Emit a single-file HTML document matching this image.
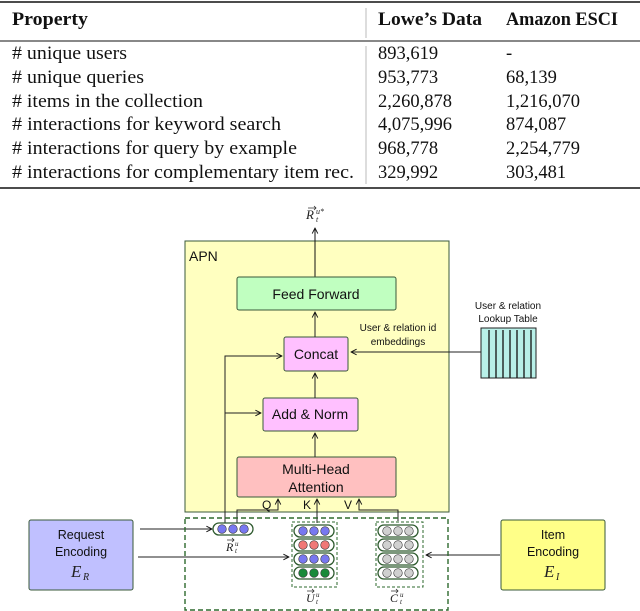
<!DOCTYPE html>
<html><head><meta charset="utf-8"><style>
html,body{margin:0;padding:0;background:#fff;width:640px;height:611px;overflow:hidden}
svg{display:block}
.t{font-family:"Liberation Serif",serif;font-size:18.5px;fill:#111}
.b{font-weight:bold}
.s{font-family:"Liberation Sans",sans-serif;fill:#111}
.m{font-family:"Liberation Serif",serif;font-style:italic;fill:#222}
</style></head><body>
<svg width="640" height="611" viewBox="0 0 640 611" xmlns="http://www.w3.org/2000/svg">
<defs>
<marker id="a" viewBox="0 0 10 10" refX="9" refY="5" markerWidth="7" markerHeight="7" orient="auto-start-reverse">
<path d="M1,1 L9,5 L1,9" fill="none" stroke="#111" stroke-width="1.3"/></marker>
</defs>
<!-- table -->
<line x1="0" y1="2" x2="640" y2="2" stroke="#111" stroke-width="1.6"/>
<line x1="0" y1="41" x2="640" y2="41" stroke="#111" stroke-width="1"/>
<line x1="0" y1="188" x2="640" y2="188" stroke="#111" stroke-width="1.6"/>
<line x1="366" y1="8" x2="366" y2="38" stroke="#bbb" stroke-width="1"/>
<line x1="366" y1="46" x2="366" y2="184" stroke="#bbb" stroke-width="1"/>
<text class="t b" x="12" y="25" textLength="76" lengthAdjust="spacingAndGlyphs">Property</text>
<text class="t b" x="378" y="25" textLength="104" lengthAdjust="spacingAndGlyphs">Lowe’s Data</text>
<text class="t b" x="506" y="25" textLength="112" lengthAdjust="spacingAndGlyphs">Amazon ESCI</text>
<g class="t">
<text x="12" y="59" textLength="115" lengthAdjust="spacingAndGlyphs"># unique users</text><text x="378" y="59">893,619</text><text x="506" y="59">-</text>
<text x="12" y="83" textLength="132" lengthAdjust="spacingAndGlyphs"># unique queries</text><text x="378" y="83">953,773</text><text x="506" y="83">68,139</text>
<text x="12" y="107" textLength="191" lengthAdjust="spacingAndGlyphs"># items in the collection</text><text x="378" y="107">2,260,878</text><text x="506" y="107">1,216,070</text>
<text x="12" y="130" textLength="269" lengthAdjust="spacingAndGlyphs"># interactions for keyword search</text><text x="378" y="130">4,075,996</text><text x="506" y="130">874,087</text>
<text x="12" y="154" textLength="285" lengthAdjust="spacingAndGlyphs"># interactions for query by example</text><text x="378" y="154">968,778</text><text x="506" y="154">2,254,779</text>
<text x="12" y="178" textLength="342" lengthAdjust="spacingAndGlyphs"># interactions for complementary item rec.</text><text x="378" y="178">329,992</text><text x="506" y="178">303,481</text>
</g>
<!-- APN -->
<rect x="185" y="241" width="264" height="271" fill="#ffffc0" stroke="#3a5a3a" stroke-width="1"/>
<text class="s" x="189" y="261" font-size="14">APN</text>
<line x1="315" y1="277" x2="315" y2="228" stroke="#111" marker-end="url(#a)"/>
<text class="m" x="306" y="219" font-size="13">R</text><path d="M308,208 h8 M314,206 l2,2 l-2,2" stroke="#333" fill="none" stroke-width="0.8"/><text class="m" x="316" y="214" font-size="8">u*</text><text class="m" x="316" y="222" font-size="8">t</text>
<rect x="237" y="277" width="159" height="33" rx="2" fill="#c0ffc0" stroke="#3a5a3a"/>
<text class="s" x="316" y="299" font-size="14" text-anchor="middle">Feed Forward</text>
<rect x="284" y="337" width="64" height="34" rx="2" fill="#ffc0ff" stroke="#3a5a3a"/>
<text class="s" x="316" y="359" font-size="14" text-anchor="middle">Concat</text>
<rect x="263" y="398" width="95" height="33" rx="2" fill="#ffc0ff" stroke="#3a5a3a"/>
<text class="s" x="310" y="419" font-size="14" text-anchor="middle">Add &amp; Norm</text>
<rect x="237" y="457" width="159" height="40" rx="2" fill="#ffc0c0" stroke="#3a5a3a"/>
<text class="s" x="316" y="474" font-size="14" text-anchor="middle">Multi-Head</text>
<text class="s" x="316" y="492" font-size="14" text-anchor="middle">Attention</text>
<g stroke="#222" fill="none" stroke-width="1">
<line x1="315" y1="337" x2="315" y2="312" marker-end="url(#a)"/>
<line x1="315" y1="398" x2="315" y2="373" marker-end="url(#a)"/>
<line x1="315" y1="457" x2="315" y2="433" marker-end="url(#a)"/>
<polyline points="225,524 225,356 282,356" marker-end="url(#a)"/>
<line x1="225" y1="413" x2="261" y2="413" marker-end="url(#a)"/>
<polyline points="237,524 237,510 278,510 278,499" marker-end="url(#a)"/>
<line x1="317" y1="523" x2="317" y2="499" marker-end="url(#a)"/>
<polyline points="398,521 398,510 359,510 359,499" marker-end="url(#a)"/>
<line x1="481" y1="352" x2="351" y2="352" marker-end="url(#a)"/>
<line x1="140" y1="529" x2="212" y2="529" marker-end="url(#a)"/>
<line x1="138" y1="557" x2="289" y2="557" marker-end="url(#a)"/>
<line x1="500" y1="555" x2="426" y2="555" marker-end="url(#a)"/>
</g>
<text class="s" x="262" y="509" font-size="12">Q</text>
<text class="s" x="303" y="509" font-size="12">K</text>
<text class="s" x="344" y="509" font-size="12">V</text>
<text class="s" x="398" y="331" font-size="10" text-anchor="middle">User &amp; relation id</text>
<text class="s" x="398" y="345" font-size="10" text-anchor="middle">embeddings</text>
<text class="s" x="508" y="309" font-size="10" text-anchor="middle">User &amp; relation</text>
<text class="s" x="508" y="322" font-size="10" text-anchor="middle">Lookup Table</text>
<rect x="481" y="328" width="55" height="50" fill="#b8f0e8" stroke="#222"/>
<g stroke="#111" stroke-width="1.3">
<line x1="489" y1="330" x2="489" y2="378"/><line x1="496" y1="330" x2="496" y2="378"/><line x1="503" y1="330" x2="503" y2="378"/><line x1="510" y1="330" x2="510" y2="378"/><line x1="517" y1="330" x2="517" y2="378"/><line x1="524" y1="330" x2="524" y2="378"/><line x1="531" y1="330" x2="531" y2="378"/>
</g>
<!-- bottom -->
<rect x="185" y="518" width="263" height="92" fill="none" stroke="#2e6a2e" stroke-width="1.4" stroke-dasharray="5,3"/>
<rect x="29" y="520" width="104" height="70" rx="2" fill="#c0c0ff" stroke="#3a5a3a"/>
<text class="s" x="81" y="539" font-size="12.5" text-anchor="middle">Request</text>
<text class="s" x="81" y="556" font-size="12.5" text-anchor="middle">Encoding</text>
<text class="m" x="71" y="577" font-size="17">E</text><text class="m" x="83" y="580" font-size="10">R</text>
<rect x="501" y="520" width="104" height="70" rx="2" fill="#ffff88" stroke="#3a5a3a"/>
<text class="s" x="553" y="539" font-size="12.5" text-anchor="middle">Item</text>
<text class="s" x="553" y="556" font-size="12.5" text-anchor="middle">Encoding</text>
<text class="m" x="544" y="577" font-size="17">E</text><text class="m" x="556" y="580" font-size="10">I</text>
<!-- R pill -->
<rect x="213" y="523" width="40" height="12" rx="6" fill="#fff" stroke="#2e5a2e" stroke-width="1.3"/>
<g fill="#7878f0" stroke="#333" stroke-width="0.6"><circle cx="222" cy="529" r="4.3"/><circle cx="233" cy="529" r="4.3"/><circle cx="244" cy="529" r="4.3"/></g>
<text class="m" x="226" y="551" font-size="12">R</text><path d="M227,540 h7 M232,538 l2,2 l-2,2" stroke="#333" fill="none" stroke-width="0.8"/><text class="m" x="235" y="546" font-size="7">u</text><text class="m" x="235" y="553" font-size="7">t</text>
<!-- columns -->
<rect x="292" y="522" width="45" height="65" fill="none" stroke="#2e6a2e" stroke-dasharray="3,2"/>
<g stroke="#2e5a2e" stroke-width="1.3" fill="#fff">
<rect x="294" y="525" width="40" height="12" rx="6"/><rect x="294" y="539" width="40" height="12" rx="6"/><rect x="294" y="553" width="40" height="12" rx="6"/><rect x="294" y="567" width="40" height="12" rx="6"/>
<rect x="378" y="525" width="40" height="12" rx="6"/><rect x="378" y="539" width="40" height="12" rx="6"/><rect x="378" y="553" width="40" height="12" rx="6"/><rect x="378" y="567" width="40" height="12" rx="6"/>
</g>
<g stroke="#333" stroke-width="0.6">
<g fill="#7878f0"><circle cx="303" cy="531" r="4.3"/><circle cx="314" cy="531" r="4.3"/><circle cx="325" cy="531" r="4.3"/><circle cx="303" cy="559" r="4.3"/><circle cx="314" cy="559" r="4.3"/><circle cx="325" cy="559" r="4.3"/></g>
<g fill="#f07878"><circle cx="303" cy="545" r="4.3"/><circle cx="314" cy="545" r="4.3"/><circle cx="325" cy="545" r="4.3"/></g>
<g fill="#1a8a3a"><circle cx="303" cy="573" r="4.3"/><circle cx="314" cy="573" r="4.3"/><circle cx="325" cy="573" r="4.3"/></g>
<g fill="#d0d0d0"><circle cx="387" cy="531" r="4.3"/><circle cx="398" cy="531" r="4.3"/><circle cx="409" cy="531" r="4.3"/><circle cx="387" cy="545" r="4.3"/><circle cx="398" cy="545" r="4.3"/><circle cx="409" cy="545" r="4.3"/><circle cx="387" cy="559" r="4.3"/><circle cx="398" cy="559" r="4.3"/><circle cx="409" cy="559" r="4.3"/><circle cx="387" cy="573" r="4.3"/><circle cx="398" cy="573" r="4.3"/><circle cx="409" cy="573" r="4.3"/></g>
</g>
<rect x="376" y="522" width="47" height="65" fill="none" stroke="#2e6a2e" stroke-dasharray="3,2"/>
<text class="m" x="306" y="602" font-size="12">U</text><path d="M307,591 h7 M312,589 l2,2 l-2,2" stroke="#333" fill="none" stroke-width="0.8"/><text class="m" x="316" y="597" font-size="7">u</text><text class="m" x="316" y="604" font-size="7">t</text>
<text class="m" x="390" y="602" font-size="12">C</text><path d="M391,591 h7 M396,589 l2,2 l-2,2" stroke="#333" fill="none" stroke-width="0.8"/><text class="m" x="400" y="597" font-size="7">u</text><text class="m" x="400" y="604" font-size="7">t</text>
</svg>
</body></html>
